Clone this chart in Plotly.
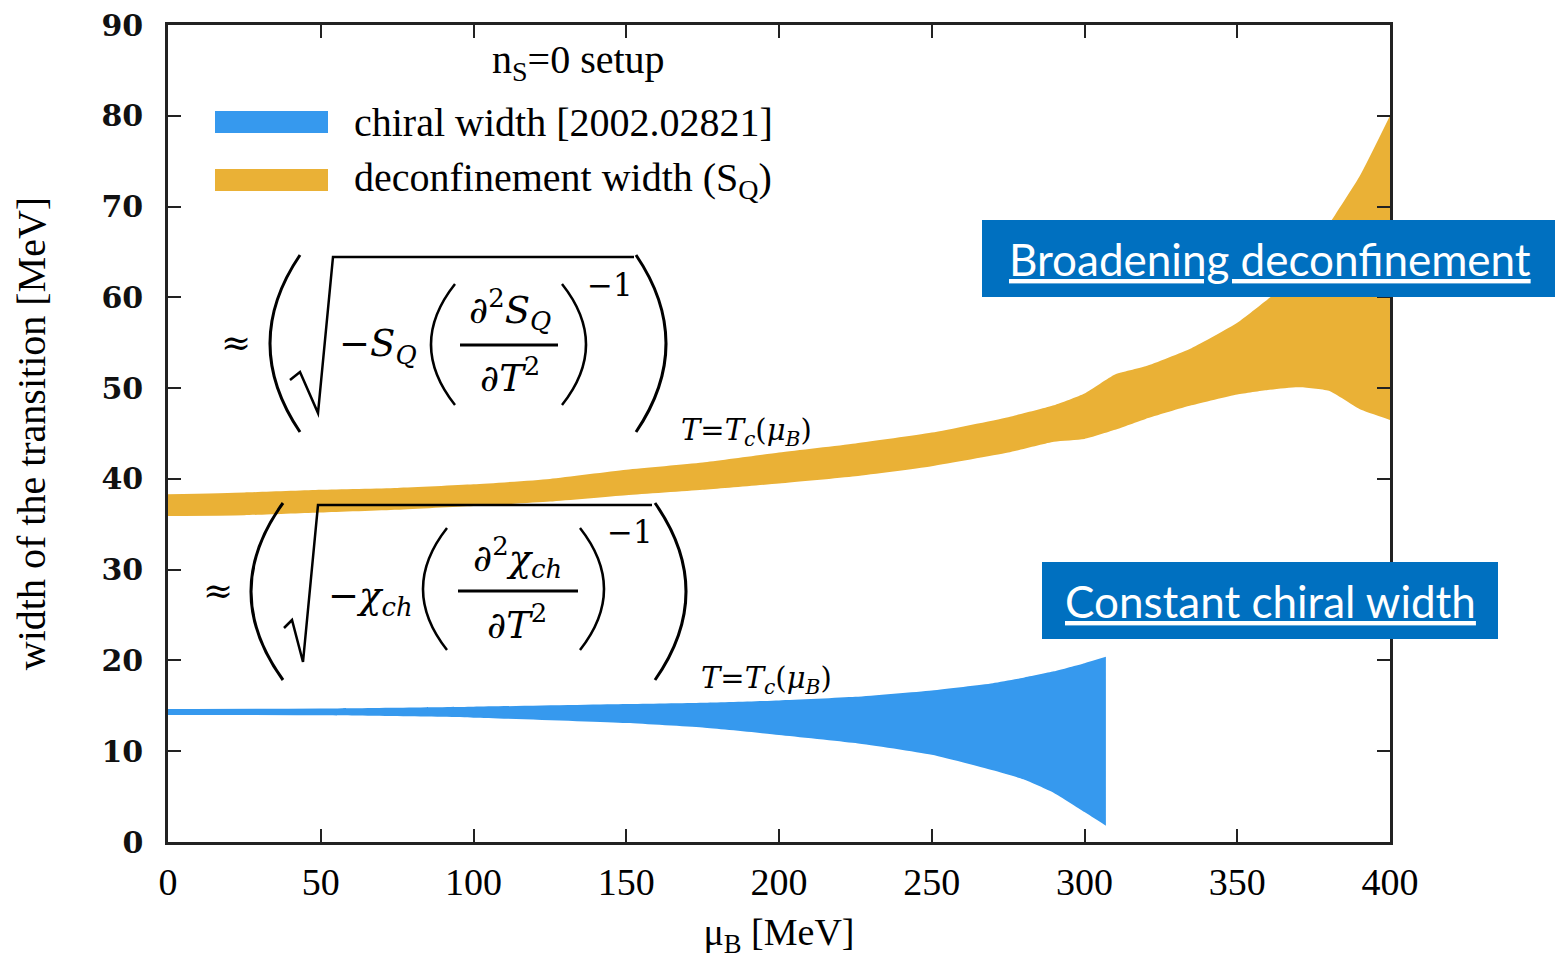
import plotly.graph_objects as go

# ---------------- data ----------------
mu_deconf = [0, 25, 50, 75, 100, 125, 150, 175, 200, 225, 250, 275, 290, 300, 310, 320, 335, 350, 360, 370, 380, 390, 400]
deconf_low = [35.9, 36.0, 36.3, 36.6, 37.0, 37.5, 38.2, 38.8, 39.5, 40.3, 41.4, 42.9, 44.1, 44.4, 45.4, 46.6, 48.1, 49.3, 49.8, 50.1, 49.7, 47.7, 46.5]
deconf_up = [38.3, 38.5, 38.8, 39.0, 39.4, 40.0, 41.0, 41.8, 42.9, 43.9, 45.1, 46.8, 48.1, 49.4, 51.5, 52.4, 54.4, 57.2, 59.8, 62.5, 68.0, 73.3, 80.0]

mu_chiral = [0, 50, 100, 150, 175, 200, 225, 250, 270, 280, 290, 300, 307]
chiral_low = [14.0, 13.95, 13.7, 13.1, 12.6, 11.8, 10.9, 9.6, 7.9, 6.9, 5.4, 3.3, 1.8]
chiral_up = [14.65, 14.7, 14.9, 15.2, 15.35, 15.6, 16.0, 16.7, 17.5, 18.1, 18.8, 19.7, 20.4]

x_ticks = [0, 50, 100, 150, 200, 250, 300, 350, 400]
y_ticks = [0, 10, 20, 30, 40, 50, 60, 70, 80, 90]

legend_title = "n<sub>S</sub>=0 setup"
legend_labels = ["chiral width [2002.02821]", "deconfinement width (S<sub>Q</sub>)"]
box_labels = ["Broadening deconfinement", "Constant chiral width"]

BLUE = "#3699EE"
ORANGE = "#EAB136"
BOXBLUE = "#0070C0"

# page body has an 8px margin: the figure is drawn at (8, 8) in the window
OFF = 8
W, H = 1563 - 2 * OFF, 967 - 2 * OFF
L, R, T, B = 168, 1390, 25, 842  # plot area in window pixels


def px(x):
    return (x - L) / (R - L)


def py(y):
    return (B - y) / (B - T)


fig = go.Figure()


def band(x, lo, up, col):
    fig.add_trace(go.Scatter(x=x, y=lo, mode="lines",
                             line=dict(width=0, color=col, shape="spline", smoothing=0.5),
                             showlegend=False, hoverinfo="skip"))
    fig.add_trace(go.Scatter(x=x, y=up, mode="lines", fill="tonexty", fillcolor=col,
                             line=dict(width=0, color=col, shape="spline", smoothing=0.5),
                             showlegend=False, hoverinfo="skip"))


band(mu_deconf, deconf_low, deconf_up, ORANGE)
band(mu_chiral, chiral_low, chiral_up, BLUE)

shapes = []
ann = []

SERIF = "Liberation Serif"
MATH = "DejaVu Serif"

# ---------------- legend (manual) ----------------
ann.append(dict(x=px(578), y=py(62), xref="paper", yref="paper", text=legend_title,
                showarrow=False, xanchor="center", yanchor="middle",
                font=dict(family=SERIF, size=40, color="black")))
for i, (lab, col) in enumerate(zip(legend_labels, [BLUE, ORANGE])):
    yc = 122 + i * 58
    shapes.append(dict(type="rect", xref="paper", yref="paper",
                       x0=px(215), x1=px(328), y0=py(yc - 11), y1=py(yc + 11),
                       fillcolor=col, line=dict(width=0)))
    ann.append(dict(x=px(352), y=py(yc), xref="paper", yref="paper", text=lab,
                    showarrow=False, xanchor="left", yanchor="middle",
                    font=dict(family=SERIF, size=40, color="black")))


# ---------------- equations ----------------
def paren(xe, ytop, ybot, xext, w=3):
    xc = 2 * xext - xe
    ym = (ytop + ybot) / 2
    p = f"M {px(xe)},{py(ytop)} Q {px(xc)},{py(ym)} {px(xe)},{py(ybot)}"
    shapes.append(dict(type="path", xref="paper", yref="paper", path=p,
                       line=dict(color="black", width=w)))


def poly(pts, w=2.5):
    p = "M " + " L ".join(f"{px(a)},{py(b)}" for a, b in pts)
    shapes.append(dict(type="path", xref="paper", yref="paper", path=p,
                       line=dict(color="black", width=w)))


def txt(x, y, s, size=38, anchor="center"):
    ann.append(dict(x=px(x), y=py(y), xref="paper", yref="paper", text=s,
                    showarrow=False, xanchor=anchor, yanchor="middle",
                    font=dict(family=MATH, size=size, color="black")))


# Equation 1 (S_Q)
txt(236, 343, "≈", 36)
paren(300, 255, 432, 270, 3)
paren(636, 255, 432, 666, 3)
poly([(290, 380), (300, 372), (318, 413), (333, 257), (634, 257)])
txt(378, 346, "−<i>S</i><sub><i>Q</i></sub>", 37)
paren(455, 284, 405, 431, 2.5)
paren(562, 284, 405, 586, 2.5)
txt(510, 310, "∂<sup>2</sup><i>S</i><sub><i>Q</i></sub>", 37)
shapes.append(dict(type="line", xref="paper", yref="paper",
                   x0=px(460), x1=px(558), y0=py(345), y1=py(345), line=dict(color="black", width=3)))
txt(510, 376, "∂<i>T</i><sup>2</sup>", 37)
txt(610, 285, "−1", 31)
txt(746, 432, "<i>T</i>=<i>T</i><sub><i>c</i></sub>(<i>μ</i><sub><i>B</i></sub>)", 29)

# Equation 2 (chi_ch)
txt(218, 590, "≈", 36)
paren(283, 503, 680, 251, 3)
paren(655, 503, 680, 686, 3)
poly([(284, 628), (292, 620), (303, 662), (318, 505), (652, 505)])
txt(370, 598, "−<i>χ</i><sub><i>ch</i></sub>", 37)
paren(447, 528, 650, 423, 2.5)
paren(580, 528, 650, 604, 2.5)
txt(517, 557, "∂<sup>2</sup><i>χ</i><sub><i>ch</i></sub>", 37)
shapes.append(dict(type="line", xref="paper", yref="paper",
                   x0=px(458), x1=px(578), y0=py(591), y1=py(591), line=dict(color="black", width=3)))
txt(517, 622, "∂<i>T</i><sup>2</sup>", 37)
txt(630, 532, "−1", 31)
txt(766, 680, "<i>T</i>=<i>T</i><sub><i>c</i></sub>(<i>μ</i><sub><i>B</i></sub>)", 29)

# ---------------- blue callout boxes ----------------
for (x0, x1, y0, y1), lab in zip([(982, 1558, 220, 297), (1042, 1498, 562, 639)], box_labels):
    shapes.append(dict(type="rect", xref="paper", yref="paper",
                       x0=px(x0), x1=px(x1), y0=py(y0), y1=py(y1),
                       fillcolor=BOXBLUE, line=dict(width=0), layer="above"))
    ann.append(dict(x=px((x0 + x1) / 2), y=py((y0 + y1) / 2), xref="paper", yref="paper",
                    text=f"<u>{lab}</u>", showarrow=False, xanchor="center", yanchor="middle",
                    font=dict(family="Lato", size=44, color="white")))

fig.update_layout(
    width=W, height=H,
    margin=dict(l=L - OFF, r=W + OFF - R, t=T - OFF, b=H + OFF - B, pad=0, autoexpand=False),
    plot_bgcolor="white", paper_bgcolor="white",
    shapes=shapes, annotations=ann, showlegend=False,
    xaxis=dict(range=[0, 400], tickvals=x_ticks, ticktext=[str(v) for v in x_ticks],
               ticks="inside", ticklen=13, tickwidth=2, tickcolor="#222",
               showline=True, linecolor="#222", linewidth=2.5, mirror="ticks",
               showgrid=False, zeroline=False, ticklabeloverflow="allow", automargin=False,
               tickfont=dict(family=SERIF, size=38, color="black"), ticklabelstandoff=5,
               title=dict(text="μ<sub>B</sub> [MeV]", font=dict(family=SERIF, size=38, color="black"),
                          standoff=28)),
    yaxis=dict(range=[0, 90], tickvals=y_ticks, ticktext=[str(v) for v in y_ticks],
               ticks="inside", ticklen=13, tickwidth=2, tickcolor="#222",
               showline=True, linecolor="#222", linewidth=2.5, mirror="ticks",
               showgrid=False, zeroline=False, ticklabeloverflow="allow", automargin=False,
               tickfont=dict(family=MATH, size=30, color="#111", weight="bold"), ticklabelstandoff=16,
               title=dict(text="width of the transition [MeV]",
                          font=dict(family=SERIF, size=40, color="black"), standoff=44)),
)

fig.write_html("out.html")
